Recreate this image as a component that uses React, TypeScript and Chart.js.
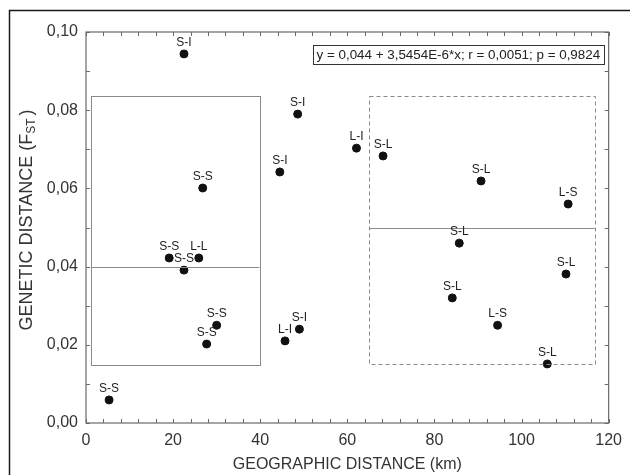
import React, { useEffect, useRef } from "react";
import { Chart, registerables } from "chart.js";

Chart.register(...registerables);

const xValues = [22.5, 48.6, 44.5, 26.8, 62.1, 68.2, 90.7, 110.7, 85.7, 110.2, 84.1, 94.5, 105.9, 19.1, 25.9, 22.5, 30.0, 27.7, 45.7, 49.0, 5.3];
const yValues = [0.0944, 0.079, 0.0642, 0.0601, 0.0703, 0.0683, 0.0619, 0.056, 0.046, 0.0381, 0.032, 0.025, 0.0151, 0.0422, 0.0422, 0.0391, 0.025, 0.0202, 0.021, 0.024, 0.0059];
const pairLabels = ["S-I", "S-I", "S-I", "S-S", "L-I", "S-L", "S-L", "L-S", "S-L", "S-L", "S-L", "L-S", "S-L", "S-S", "L-L", "S-S", "S-S", "S-S", "L-I", "S-I", "S-S"];

const xTickLabels = ["0", "20", "40", "60", "80", "100", "120"];
const yTickLabels = ["0,00", "0,02", "0,04", "0,06", "0,08", "0,10"];

// Annotation boxes in data units: [xMin, xMax, yMin, yMax, dividerY]
const leftBox = [1.1, 39.8, 0.0148, 0.0836, 0.04];
const rightBox = [65.0, 116.8, 0.0151, 0.0836, 0.05];

const equationText = "y = 0,044 + 3,5454E-6*x; r = 0,0051; p = 0,9824";
const xTitle = "GEOGRAPHIC DISTANCE (km)";
const yTitleMain = "GENETIC DISTANCE (F";
const yTitleSub = "ST";

const FONT = "'Liberation Sans', Arial, sans-serif";

const overlayPlugin = {
  id: "overlay",
  afterDatasetsDraw(chart: any) {
    const ctx = chart.ctx;
    const xs = chart.scales.x;
    const ys = chart.scales.y;
    const area = chart.chartArea;
    ctx.save();

    // outer frame
    ctx.strokeStyle = "#1a1a1a";
    ctx.lineWidth = 1.5;
    ctx.beginPath();
    ctx.moveTo(9.5, 480);
    ctx.lineTo(9.5, 10.5);
    ctx.lineTo(640, 10.5);
    ctx.stroke();

    // plot frame
    ctx.strokeStyle = "#6a6a6a";
    ctx.lineWidth = 1.2;
    ctx.strokeRect(area.left, area.top, area.right - area.left, area.bottom - area.top);

    // inward ticks
    ctx.lineWidth = 1;
    ctx.beginPath();
    for (let v = 0; v <= 120; v += 4) {
      const px = Math.round(xs.getPixelForValue(v)) + 0.5;
      ctx.moveTo(px, area.bottom);
      ctx.lineTo(px, area.bottom - 4);
      ctx.moveTo(px, area.top);
      ctx.lineTo(px, area.top + 4);
    }
    for (let i = 0; i <= 10; i++) {
      const py = Math.round(ys.getPixelForValue(i / 100)) + 0.5;
      ctx.moveTo(area.left, py);
      ctx.lineTo(area.left + 4, py);
      ctx.moveTo(area.right, py);
      ctx.lineTo(area.right - 4, py);
    }
    ctx.stroke();

    // boxes
    const box = (b: number[], dashed: boolean) => {
      const x1 = xs.getPixelForValue(b[0]);
      const x2 = xs.getPixelForValue(b[1]);
      const y1 = ys.getPixelForValue(b[3]);
      const y2 = ys.getPixelForValue(b[2]);
      const yd = ys.getPixelForValue(b[4]);
      ctx.strokeStyle = "#8a8a8a";
      ctx.lineWidth = 1;
      ctx.setLineDash(dashed ? [4, 3] : []);
      ctx.strokeRect(Math.round(x1) + 0.5, Math.round(y1) + 0.5, Math.round(x2 - x1), Math.round(y2 - y1));
      ctx.setLineDash([]);
      ctx.beginPath();
      ctx.moveTo(x1, Math.round(yd) + 0.5);
      ctx.lineTo(x2, Math.round(yd) + 0.5);
      ctx.stroke();
    };
    box(leftBox, false);
    box(rightBox, true);

    // point labels
    ctx.fillStyle = "#222";
    ctx.font = `12px ${FONT}`;
    ctx.textAlign = "center";
    ctx.textBaseline = "middle";
    const meta = chart.getDatasetMeta(0);
    meta.data.forEach((pt: any, i: number) => {
      ctx.fillText(pairLabels[i], pt.x, pt.y - 11.5);
    });

    // equation box
    ctx.font = `13.4px ${FONT}`;
    const tw = ctx.measureText(equationText).width;
    const bx2 = area.right - 5;
    const bx1 = bx2 - tw - 7;
    ctx.strokeStyle = "#333";
    ctx.lineWidth = 1;
    ctx.strokeRect(Math.round(bx1) + 0.5, 45.5, Math.round(bx2 - bx1), 19);
    ctx.fillStyle = "#222";
    ctx.textAlign = "center";
    ctx.fillText(equationText, (bx1 + bx2) / 2, 55.5);

    // x title
    ctx.font = `16px ${FONT}`;
    ctx.fillStyle = "#333";
    ctx.fillText(xTitle, (area.left + area.right) / 2, 465);

    // y title with subscript
    ctx.translate(27, 220);
    ctx.rotate(-Math.PI / 2);
    ctx.font = `18px ${FONT}`;
    const w1 = ctx.measureText(yTitleMain).width;
    ctx.font = `12px ${FONT}`;
    const w2 = ctx.measureText(yTitleSub).width;
    ctx.font = `18px ${FONT}`;
    const w3 = ctx.measureText(")").width;
    const total = w1 + w2 + w3 + 3;
    let sx = -total / 2;
    ctx.textAlign = "left";
    ctx.fillText(yTitleMain, sx, 0);
    sx += w1;
    ctx.font = `12px ${FONT}`;
    ctx.fillText(yTitleSub, sx, 5);
    sx += w2 + 3;
    ctx.font = `18px ${FONT}`;
    ctx.fillText(")", sx, 0);

    ctx.restore();
  },
};

export default function App() {
  const ref = useRef<HTMLCanvasElement | null>(null);
  useEffect(() => {
    document.body.style.margin = "0";
    const canvas = ref.current!;
    const chart = new Chart(canvas, {
      type: "scatter",
      data: {
        datasets: [
          {
            data: xValues.map((x, i) => ({ x, y: yValues[i] })),
            backgroundColor: "#111",
            borderColor: "#111",
            pointRadius: 4,
            pointHoverRadius: 4,
          },
        ],
      },
      options: {
        animation: false,
        responsive: false,
        maintainAspectRatio: false,
        devicePixelRatio: 1,
        layout: { padding: { left: 0, right: 16, top: 32, bottom: 0 } },
        plugins: { legend: { display: false }, tooltip: { enabled: false } },
        scales: {
          x: {
            type: "linear",
            min: 0,
            max: 120,
            grid: { display: false, drawTicks: false },
            border: { display: false },
            afterFit: (s: any) => {
              s.height = 52;
            },
            afterBuildTicks: (s: any) => {
              s.ticks = xTickLabels.map((t) => ({ value: Number(t) }));
            },
            ticks: {
              padding: 8,
              color: "#333",
              font: { family: FONT, size: 16 },
              maxRotation: 0,
              callback: (v: any) => String(v),
            },
          },
          y: {
            type: "linear",
            min: 0,
            max: 0.1,
            grid: { display: false, drawTicks: false },
            border: { display: false },
            afterFit: (s: any) => {
              s.width = 86;
            },
            afterBuildTicks: (s: any) => {
              s.ticks = yTickLabels.map((t) => ({ value: Number(t.replace(",", ".")) }));
            },
            ticks: {
              padding: 8,
              color: "#333",
              font: { family: FONT, size: 16 },
              callback: (v: any) => Number(v).toFixed(2).replace(".", ","),
            },
          },
        },
      },
      plugins: [overlayPlugin],
    });
    return () => chart.destroy();
  }, []);
  return (
    <div style={{ position: "absolute", left: 0, top: 0, width: 630, height: 475, background: "#fff" }}>
      <canvas ref={ref} width={630} height={475} style={{ width: 630, height: 475, display: "block" }} />
    </div>
  );
}
